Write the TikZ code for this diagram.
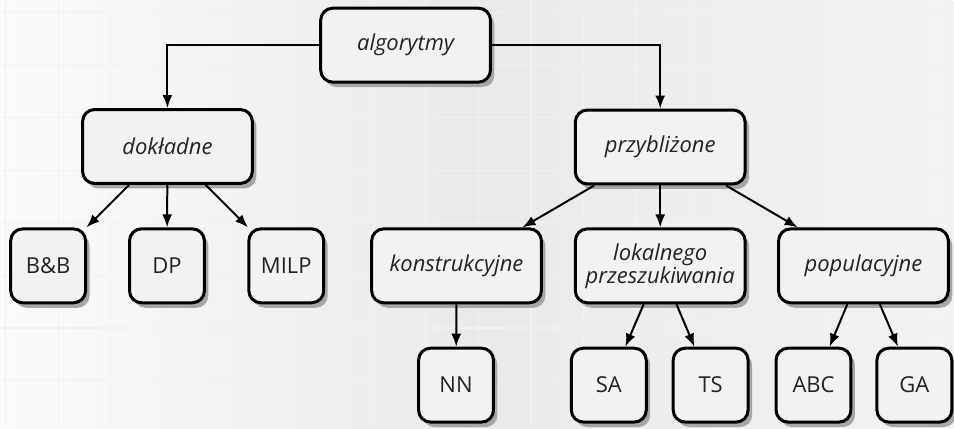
\documentclass[tikz,border=0pt]{standalone}
\usepackage{fontspec}
\setmainfont{Open Sans}
\usetikzlibrary{arrows.meta,shadows}
\definecolor{bgleft}{HTML}{FBFBFB}
\definecolor{bgmid}{HTML}{EAEAEA}
\definecolor{bgright}{HTML}{F3F3F3}
\definecolor{gridc}{HTML}{F1F1F1}
\definecolor{boxfill}{HTML}{F2F2F2}
\definecolor{txt}{HTML}{222222}
\tikzset{
  box/.style={draw=black, line width=1.5pt, fill=boxfill, rounded corners=6pt,
    text=txt, align=center, inner sep=2pt,
    font=\fontsize{11pt}{11.5pt}\selectfont,
    drop shadow={shadow xshift=2pt, shadow yshift=-2.5pt, fill=black!35, opacity=1}},
  bigbox/.style={box, minimum width=85pt, minimum height=37pt,
    font=\fontsize{11pt}{11.5pt}\selectfont\itshape},
  leafbox/.style={box, minimum width=37.5pt, minimum height=37pt},
  link/.style={line width=1pt, -{Latex[length=6.5pt,width=5pt]}},
  gridline/.style={draw=gridc, line width=0.7pt}
}
\begin{document}
\begin{tikzpicture}[x=0.5pt, y=-0.5pt]
  % backdrop with a soft horizontal shading and a light grid
  \shade[left color=bgleft, right color=bgright, middle color=bgmid] (0,0) rectangle (954,428);
  \foreach \i in {0,...,18} \draw[gridline] ({5+52.6*\i},0) -- ({5+52.6*\i},428);
  \foreach \j in {0,...,7} \draw[gridline] (0,{12+52.6*\j}) -- (954,{12+52.6*\j});
  \useasboundingbox (0,0) rectangle (954,428);

  % tree nodes
  \node[bigbox] (alg) at (405.5,44.5) {algorytmy};
  \node[bigbox] (dok) at (167,146) {dokładne};
  \node[bigbox] (prz) at (660.5,146.5) {przybliżone};

  \node[leafbox] (bb) at (47.5,265.5) {B\&B};
  \node[leafbox] (dp) at (166.5,265.5) {DP};
  \node[leafbox] (milp) at (286,265.5) {MILP};

  \node[bigbox] (kon) at (456.5,265.5) {konstrukcyjne};
  \node[bigbox] (lok) at (660.5,265.5) {lokalnego\\przeszukiwania};
  \node[bigbox] (pop) at (864,265.5) {populacyjne};

  \node[leafbox] (nn) at (456,385) {NN};
  \node[leafbox] (sa) at (609,385) {SA};
  \node[leafbox] (ts) at (711,385) {TS};
  \node[leafbox] (abc) at (814,385) {ABC};
  \node[leafbox] (ga) at (915,385) {GA};

  % connectors
  \draw[link] (alg.west) -| (dok.north);
  \draw[link] (alg.east) -| (prz.north);
  \draw[link] (dok) -- (bb);
  \draw[link] (dok) -- (dp);
  \draw[link] (dok) -- (milp);
  \draw[link] (prz) -- (kon);
  \draw[link] (prz) -- (lok);
  \draw[link] (prz) -- (pop);
  \draw[link] (kon) -- (nn);
  \draw[link] (lok) -- (sa);
  \draw[link] (lok) -- (ts);
  \draw[link] (pop) -- (abc);
  \draw[link] (pop) -- (ga);
\end{tikzpicture}
\end{document}
